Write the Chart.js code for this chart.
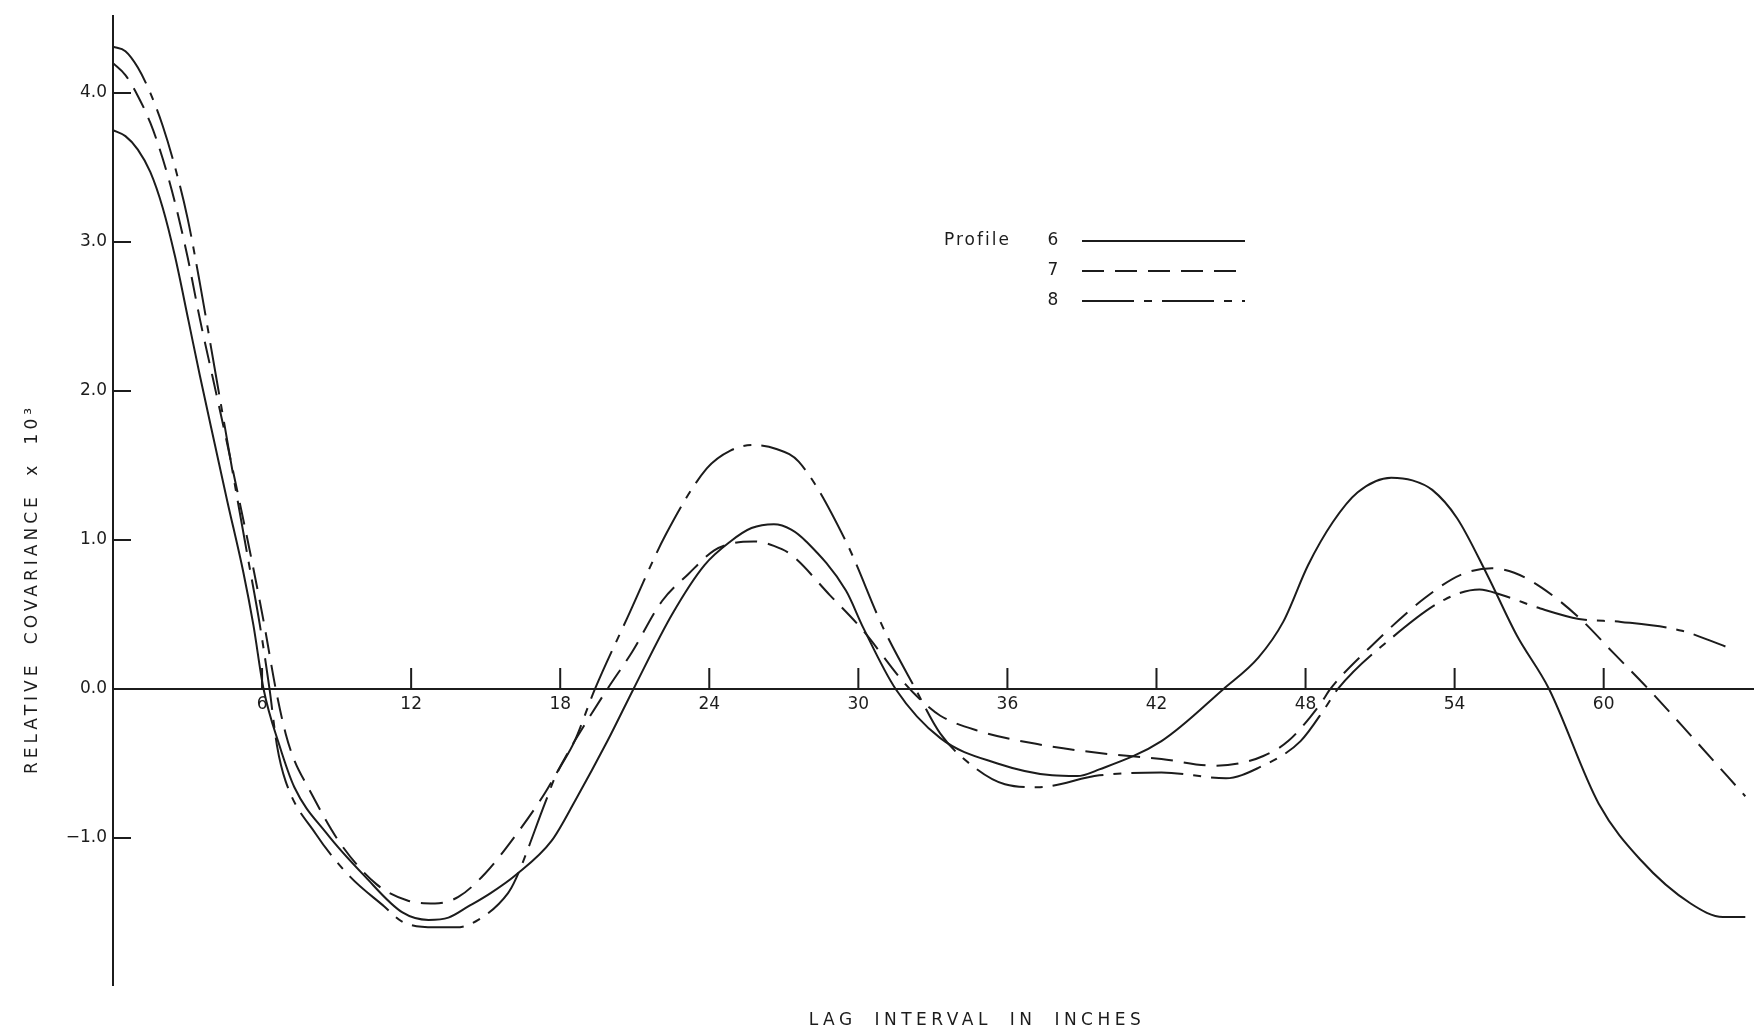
<!DOCTYPE html>
<html>
<head>
<meta charset="utf-8">
<title>Relative covariance vs lag interval</title>
<script src="https://cdn.jsdelivr.net/npm/chart.js@4.4.1/dist/chart.umd.min.js"></script>
<style>
  html, body { margin: 0; padding: 0; background: #fff; }
  #wrap { width: 1754px; height: 1031px; position: relative; }
</style>
</head>
<body>
<div id="wrap"><canvas id="myChart"></canvas></div>
<script>
// values: lag in inches, relative covariance x 10^3
const lag6 = [0, 0.5, 1, 1.5, 2, 2.5, 3.04, 3.5, 4.1, 4.6, 5.25, 5.65, 6.06, 6.7, 7.3, 8.6, 10.15, 11.65, 12.7, 13.5, 14.3, 15.2, 16.2, 17.65, 18.6, 19.9, 20.95,
  22.5, 23.8, 24.85, 25.7, 26.6, 27.3, 27.9, 29.5, 30.2, 31.5, 33.3, 35.6, 37.8, 38.8, 39.7, 42.2, 44.7, 46.1, 47.1, 48.1, 49.1, 50.1,
  51.45, 52.3, 53.1, 54.1, 55.3, 56.5, 57.8, 59.8, 61.5, 63.5, 64.8, 65.7];
const cov6 = [3.75, 3.71, 3.62, 3.47, 3.23, 2.9, 2.47, 2.1, 1.64, 1.26, 0.78, 0.43, 0, -0.38, -0.66, -0.97, -1.26, -1.5, -1.55, -1.535, -1.46, -1.37, -1.25, -1.02, -0.75, -0.35, 0,
  0.5, 0.83, 0.99, 1.08, 1.106, 1.07, 0.99, 0.66, 0.41, 0, -0.33, -0.5, -0.58, -0.585, -0.54, -0.35, 0, 0.21, 0.45, 0.83, 1.12, 1.32,
  1.418, 1.4, 1.336, 1.146, 0.77, 0.36, 0, -0.77, -1.15, -1.44, -1.53, -1.53];

const lag7 = [0, 0.5, 1, 1.5, 2, 2.5, 3, 3.5, 4, 4.5, 5, 5.6, 6.1, 6.55, 6.95, 7.3, 7.85, 9.08, 10.6, 11.85, 12.96, 13.9, 14.97, 16.04, 17.38, 18.58, 19.9,
  20.9, 22.1, 23.15, 24.2, 25.0, 25.8, 26.6, 27.3, 28.85, 30.1, 31.9, 32.55, 33.3, 34.8, 37.2, 39.7, 42.2, 44.3, 45.3, 46.3, 47.3, 48.6,
  49.0, 50.6, 52.8, 54.3, 55.5, 56.4, 57.5, 59.0, 60.4, 61.8, 63.6, 65.7];
const cov7 = [4.2, 4.12, 3.98, 3.8, 3.56, 3.26, 2.9, 2.48, 2.1, 1.72, 1.33, 0.85, 0.42, 0, -0.3, -0.48, -0.66, -1.02, -1.31, -1.42, -1.44, -1.396, -1.24, -1.02, -0.7, -0.35, 0,
  0.25, 0.59, 0.77, 0.93, 0.98, 0.99, 0.96, 0.9, 0.63, 0.41, 0.03, -0.08, -0.18, -0.28, -0.37, -0.43, -0.47, -0.515, -0.5, -0.45, -0.35, -0.1,
  0, 0.28, 0.61, 0.77, 0.81, 0.78, 0.68, 0.48, 0.24, 0, -0.33, -0.72];

const lag8 = [0, 0.5, 1, 1.5, 2, 2.5, 3, 3.5, 4, 4.5, 5, 5.45, 5.9, 6.3, 6.6, 6.95, 8.15, 9.54, 10.92, 11.62, 12.96, 13.83, 14.7, 15.9, 16.2, 17.38, 17.8, 18.58,
  19.4, 20.7, 22.25, 23.9, 24.85, 25.8, 26.7, 27.6, 29.5, 31.0, 32.3, 33.3, 34.7, 35.9, 37.2, 39.7, 42.2, 44.8, 46.1, 47.8, 48.8, 49.3,
  51.45, 53.6, 55.0, 55.9, 57.45, 59.0, 60.7, 63.15, 64.9];
const cov8 = [4.31, 4.28, 4.17, 4.0, 3.78, 3.5, 3.16, 2.72, 2.24, 1.76, 1.28, 0.86, 0.44, 0, -0.38, -0.62, -0.97, -1.26, -1.46, -1.56, -1.6, -1.6, -1.55, -1.37, -1.28, -0.77, -0.59, -0.35,
  0, 0.477, 1.036, 1.48, 1.6, 1.637, 1.61, 1.525, 0.99, 0.41, 0, -0.3, -0.53, -0.64, -0.66, -0.58, -0.56, -0.6, -0.53, -0.35, -0.125, 0,
  0.34, 0.6, 0.667, 0.63, 0.54, 0.47, 0.45, 0.39, 0.285];

const profiles = ['6', '7', '8'];
const xTicks = [6, 12, 18, 24, 30, 36, 42, 48, 54, 60];
const yTicks = [-1, 0, 1, 2, 3, 4];

const ink = '#1c1c1c';
const font = 'DejaVu Sans';

function toPoints(xs, ys) {
  return xs.map((x, i) => ({ x: x, y: ys[i] }));
}

// tick marks point inwards, titles and the "Profile" key are drawn here
const decorations = {
  id: 'decorations',
  afterDraw(chart) {
    const ctx = chart.ctx;
    const xs = chart.scales.x, ys = chart.scales.y;
    const x0 = xs.getPixelForValue(0), y0 = ys.getPixelForValue(0);

    ctx.save();
    ctx.strokeStyle = ink;
    ctx.lineWidth = 2;
    ctx.beginPath();
    xTicks.forEach(v => {
      const px = xs.getPixelForValue(v);
      ctx.moveTo(px, y0);
      ctx.lineTo(px, y0 - 21);
    });
    yTicks.forEach(v => {
      const py = ys.getPixelForValue(v);
      ctx.moveTo(x0, py);
      ctx.lineTo(x0 + 18, py);
    });
    ctx.stroke();

    // axis titles
    ctx.fillStyle = ink;
    ctx.font = '17px "' + font + '"';
    ctx.letterSpacing = '4.5px';
    ctx.wordSpacing = '8px';
    ctx.textAlign = 'center';
    ctx.textBaseline = 'middle';
    ctx.fillText('LAG INTERVAL IN INCHES', 977, 1021);

    ctx.save();
    ctx.translate(33, 589);
    ctx.rotate(-Math.PI / 2);
    ctx.letterSpacing = '4px';
    ctx.fillText('RELATIVE COVARIANCE x 10³', 0, 0);
    ctx.restore();

    // key
    ctx.letterSpacing = '2px';
    ctx.wordSpacing = '0px';
    ctx.textAlign = 'left';
    ctx.fillText('Profile', 944, 241);
    ctx.letterSpacing = '0px';
    ctx.textAlign = 'center';
    chart.data.datasets.forEach((ds, i) => {
      const ly = 241 + i * 30;
      ctx.fillText(ds.label, 1053, ly);
      ctx.setLineDash(ds.borderDash || []);
      ctx.lineWidth = ds.borderWidth;
      ctx.beginPath();
      ctx.moveTo(1082, ly);
      ctx.lineTo(1245, ly);
      ctx.stroke();
    });
    ctx.restore();
  }
};

const ctx = document.getElementById('myChart').getContext('2d');
const myChart = new Chart(ctx, {
  type: 'line',
  data: {
    datasets: [
      { label: profiles[0], data: toPoints(lag6, cov6), borderDash: [] },
      { label: profiles[1], data: toPoints(lag7, cov7), borderDash: [22, 11] },
      { label: profiles[2], data: toPoints(lag8, cov8), borderDash: [52, 10, 8, 10] }
    ].map(ds => Object.assign(ds, {
      borderColor: ink,
      borderWidth: 2,
      pointRadius: 0,
      fill: false,
      cubicInterpolationMode: 'monotone'
    }))
  },
  options: {
    responsive: true,
    maintainAspectRatio: false,
    animation: false,
    layout: { padding: { top: 13, left: 0, right: 0, bottom: 46 } },
    plugins: {
      legend: { display: false },
      tooltip: { enabled: false }
    },
    scales: {
      x: {
        type: 'linear',
        position: { y: 0 },
        min: 0,
        max: 66.05,
        grid: { display: false, drawTicks: false },
        border: { display: true, color: ink, width: 2 },
        afterBuildTicks: s => { s.ticks = xTicks.map(v => ({ value: v })); },
        afterFit: s => { s.height = 0; },
        ticks: {
          autoSkip: false,
          maxRotation: 0,
          padding: 5,
          color: ink,
          font: { family: font, size: 17 },
          callback: v => String(v)
        }
      },
      y: {
        type: 'linear',
        min: -1.987,
        max: 4.515,
        grid: { display: false, drawTicks: false },
        border: { display: true, color: ink, width: 2 },
        afterBuildTicks: s => { s.ticks = yTicks.map(v => ({ value: v })); },
        afterFit: s => { s.width = 113; },
        ticks: {
          padding: 6,
          color: ink,
          font: { family: font, size: 17 },
          callback: v => (v < 0 ? '\u2212' : '') + Math.abs(v).toFixed(1)
        }
      }
    }
  },
  plugins: [decorations]
});
</script>
</body>
</html>
